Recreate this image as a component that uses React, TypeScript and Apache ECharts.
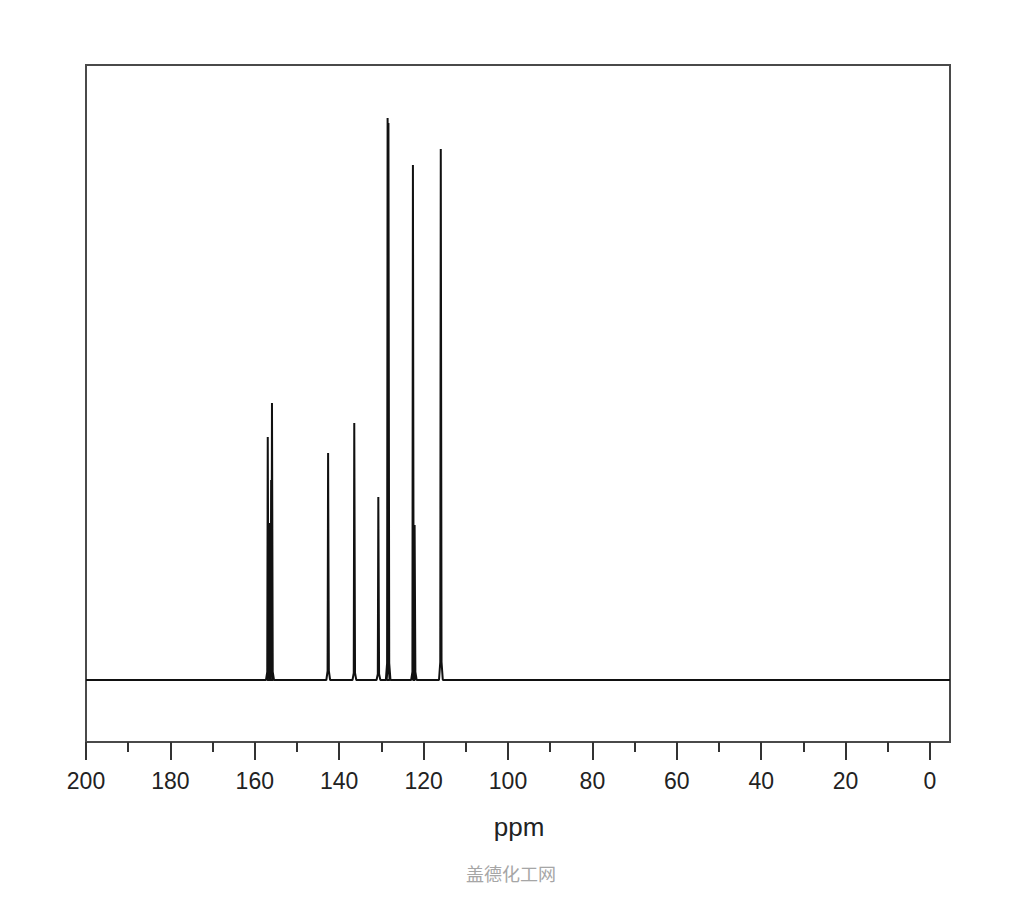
import React, { useEffect, useRef } from "react";
import * as echarts from "echarts";

// 13C NMR peak positions (ppm) and intensities (arbitrary units, baseline = 0)
const peakPpm = [156.9, 156.6, 156.1, 155.9, 142.6, 136.4, 130.7, 128.5, 128.3, 122.5, 122.1, 115.9];
const peakHeight = [243, 157, 200, 277, 227, 257, 183, 562, 557, 515, 155, 531];
const peakFoot = [8, 8, 8, 8, 9, 7, 6, 17, 17, 8, 8, 18];
const spectrumRange = [-4.74, 200];
const tickRange = [0, 200];
const intensityRange = [-62, 615];

function buildSpectrum(): number[][] {
  const pts: number[][] = [[spectrumRange[1], 0]];
  const order = peakPpm.map((p, i) => i).sort((a, b) => peakPpm[b] - peakPpm[a]);
  for (const i of order) {
    const p = peakPpm[i];
    pts.push([p + 0.45, 0]);
    pts.push([p + 0.15, peakFoot[i]]);
    pts.push([p + 0.03, peakHeight[i]]);
    pts.push([p - 0.03, peakHeight[i]]);
    pts.push([p - 0.15, peakFoot[i]]);
    pts.push([p - 0.45, 0]);
  }
  pts.push([spectrumRange[0], 0]);
  return pts;
}

export default function App() {
  const ref = useRef<HTMLDivElement>(null);
  useEffect(() => {
    document.body.style.margin = "0";
    const chart = echarts.init(ref.current!, null, { renderer: "svg" });
    chart.setOption({
      animation: false,
      backgroundColor: "#ffffff",
      grid: [
        { left: 86, right: 74, top: 65, bottom: 158, show: true, borderColor: "#4a4a4a", borderWidth: 2, backgroundColor: "transparent" },
        { left: 86, right: 94, top: 65, bottom: 158, show: false },
      ],
      xAxis: [
        {
          type: "value",
          gridIndex: 0,
          min: spectrumRange[0],
          max: spectrumRange[1],
          inverse: true,
          axisLine: { show: false },
          axisTick: { show: false },
          axisLabel: { show: false },
          splitLine: { show: false },
        },
        {
          type: "value",
          gridIndex: 1,
          min: tickRange[0],
          max: tickRange[1],
          interval: 20,
          inverse: true,
          position: "bottom",
          axisLine: { show: false },
          axisTick: { show: true, length: 18, lineStyle: { color: "#333", width: 2 } },
          minorTick: { show: true, splitNumber: 2, length: 10, lineStyle: { color: "#333", width: 2 } },
          axisLabel: { show: true, margin: 27, fontSize: 23, color: "#222", fontFamily: "Liberation Sans" },
          splitLine: { show: false },
        },
      ],
      yAxis: [
        { type: "value", gridIndex: 0, min: intensityRange[0], max: intensityRange[1], show: false, splitLine: { show: false } },
        { type: "value", gridIndex: 1, min: 0, max: 1, show: false, splitLine: { show: false } },
      ],
      series: [
        {
          type: "line",
          xAxisIndex: 0,
          yAxisIndex: 0,
          data: buildSpectrum(),
          showSymbol: false,
          symbol: "none",
          lineStyle: { color: "#111", width: 2 },
        },
      ],
      graphic: [
        {
          type: "text",
          x: 519,
          y: 827,
          style: { text: "ppm", fontSize: 26, fill: "#222", fontFamily: "Liberation Sans", textAlign: "center", textVerticalAlign: "middle" },
        },
        {
          type: "text",
          x: 511,
          y: 873,
          style: { text: "盖德化工网", fontSize: 18, fill: "#a6a6a6", fontFamily: "Noto Sans CJK SC", textAlign: "center", textVerticalAlign: "middle" },
        },
      ],
    });
    return () => chart.dispose();
  }, []);
  return <div ref={ref} style={{ width: 1024, height: 900 }} />;
}
